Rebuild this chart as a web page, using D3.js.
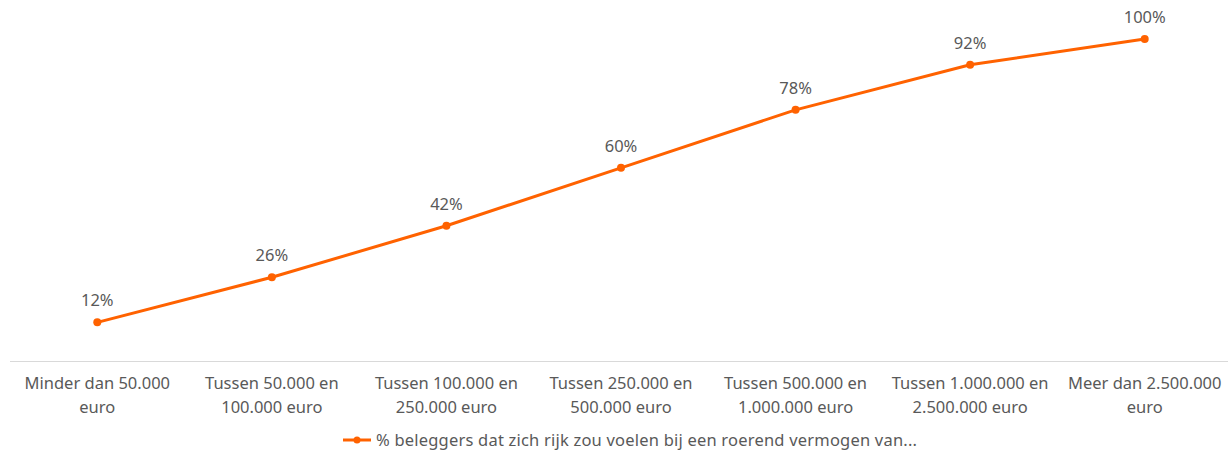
<!DOCTYPE html>
<html><head><meta charset="utf-8">
<script src="https://cdn.jsdelivr.net/npm/d3@7"></script>
<style>body{margin:0;background:#fff}svg{display:block;font-family:"Noto Sans",Lato,sans-serif}</style>
</head><body><svg id="c" width="1230" height="452"></svg>
<script>
const categories = [
  ["Minder dan 50.000","euro"],
  ["Tussen 50.000 en","100.000 euro"],
  ["Tussen 100.000 en","250.000 euro"],
  ["Tussen 250.000 en","500.000 euro"],
  ["Tussen 500.000 en","1.000.000 euro"],
  ["Tussen 1.000.000 en","2.500.000 euro"],
  ["Meer dan 2.500.000","euro"]
];
const values = [12, 26, 42, 60, 78, 92, 100];
const seriesName = "% beleggers dat zich rijk zou voelen bij een roerend vermogen van...";
const color = "#FF6200", textColor = "#595959";

const svg = d3.select("#c");
const x = d3.scaleBand().domain(d3.range(categories.length)).range([10, 1232]);
const y = d3.scaleLinear().domain([0, 100]).range([361, 39]);
const cx = i => x(i) + x.bandwidth()/2;

svg.append("line").attr("x1",10).attr("x2",1228).attr("y1",361.5).attr("y2",361.5)
  .attr("stroke","#d9d9d9").attr("stroke-width",1);

const cat = svg.append("g").selectAll("text").data(categories).join("text")
  .attr("text-anchor","middle").attr("fill",textColor).attr("font-size",16.5)
  .attr("x",(d,i)=>cx(i));
cat.each(function(d){
  const t = d3.select(this);
  d.forEach((l,k)=>t.append("tspan").attr("x",t.attr("x")).attr("y",389+k*24).text(l));
});

const line = d3.line().x((d,i)=>cx(i)).y(d=>y(d));
svg.append("path").datum(values).attr("d",line).attr("fill","none")
  .attr("stroke",color).attr("stroke-width",3).attr("stroke-linejoin","round");
svg.append("g").selectAll("circle").data(values).join("circle")
  .attr("cx",(d,i)=>cx(i)).attr("cy",d=>y(d)).attr("r",4).attr("fill",color);
svg.append("g").selectAll("text").data(values).join("text")
  .attr("x",(d,i)=>cx(i)).attr("y",d=>y(d)-16).attr("text-anchor","middle")
  .attr("fill",textColor).attr("font-size",16.5).text(d=>d+"%");

const lg = svg.append("g");
lg.append("line").attr("x1",343).attr("x2",371).attr("y1",440).attr("y2",440).attr("stroke",color).attr("stroke-width",3);
lg.append("circle").attr("cx",357).attr("cy",440).attr("r",3.5).attr("fill",color);
lg.append("text").attr("x",376).attr("y",445.5).attr("fill",textColor).attr("font-size",16.5)
  .attr("textLength",541).attr("lengthAdjust","spacing").text(seriesName);
</script></body></html>
